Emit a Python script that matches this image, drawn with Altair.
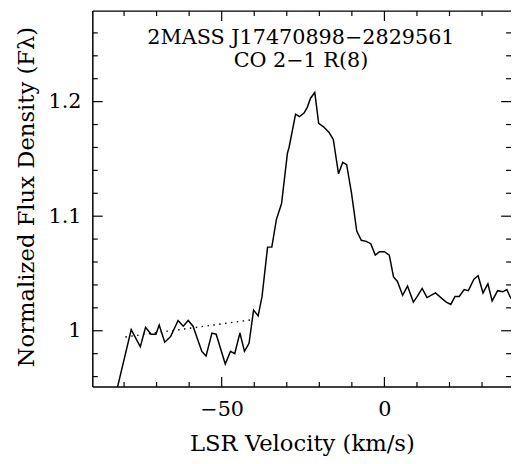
import altair as alt
import pandas as pd

velocity = [-82.0, -77.8, -75.0, -73.4, -71.7, -70.2, -69.2, -67.5, -65.7, -63.4,
            -61.8, -60.3, -58.8, -56.1, -54.8, -53.0, -51.7, -48.9, -47.3, -46.0,
            -44.4, -43.0, -41.6, -40.2, -38.8, -37.6, -35.9, -34.6, -33.2, -31.6,
            -29.8, -29.3, -27.3, -26.1, -24.7, -23.7, -22.7, -21.4, -20.2, -18.7,
            -17.0, -15.7, -14.1, -12.8, -11.6, -10.1, -8.5, -7.1, -5.6, -4.2,
            -2.8, -1.5, 0.0, 1.5, 2.8, 4.0, 5.6, 7.1, 8.9, 10.1,
            11.6, 13.1, 15.7, 17.7, 19.0, 20.4, 21.7, 23.0, 24.5, 25.8,
            27.5, 28.8, 30.3, 31.8, 33.1, 34.8, 36.4, 37.6, 38.9]
flux = [0.951, 1.001, 0.986, 1.003, 0.997, 0.997, 1.005, 0.990, 0.995, 1.009,
        1.004, 1.009, 1.004, 0.982, 0.978, 0.998, 0.997, 0.971, 0.982, 0.980,
        0.998, 0.982, 0.989, 1.018, 1.013, 1.030, 1.073, 1.073, 1.097, 1.111,
        1.155, 1.160, 1.189, 1.187, 1.190, 1.195, 1.203, 1.208, 1.181, 1.178,
        1.173, 1.167, 1.137, 1.147, 1.145, 1.120, 1.087, 1.079, 1.078, 1.076,
        1.066, 1.069, 1.069, 1.066, 1.047, 1.043, 1.031, 1.039, 1.025, 1.030,
        1.037, 1.029, 1.033, 1.028, 1.025, 1.023, 1.030, 1.030, 1.036, 1.035,
        1.045, 1.048, 1.033, 1.041, 1.026, 1.035, 1.034, 1.036, 1.028]

cont_velocity = [-79.6, -40.4]
cont_flux = [0.9946, 1.0097]

x_major = [-50, 0]
x_minor = [-80, -70, -60, -40, -30, -20, -10, 10, 20, 30]
y_major = [1.0, 1.1, 1.2]
y_minor = [0.96, 0.98, 1.02, 1.04, 1.06, 1.08, 1.12, 1.14, 1.16, 1.18, 1.22, 1.24, 1.26]

title_lines = ["2MASS J17470898\u22122829561", "CO 2\u22121 R(8)"]
x_title = "LSR Velocity (km/s)"
y_title = "Normalized Flux Density (F\u03bb)"

W, H = 424, 381
FONT = "DejaVu Serif"
MAJ, MIN = 10, 5

xs = alt.Scale(domain=[-89.6, 38.9], nice=False, zero=False)
ys = alt.Scale(domain=[0.951, 1.279], nice=False, zero=False)

x_axis = alt.Axis(
    values=x_major, format="d", ticks=False, domain=False, grid=False,
    labelFont=FONT, labelFontSize=21, labelColor="black", labelPadding=12,
    title=x_title, titleFont=FONT, titleFontSize=23, titleFontWeight="normal",
    titleColor="black", titleY=64, titleBaseline="alphabetic")
y_axis = alt.Axis(
    values=y_major, format="~g", ticks=False, domain=False, grid=False,
    labelFont=FONT, labelFontSize=21, labelColor="black", labelPadding=12,
    title=y_title, titleFont=FONT, titleFontSize=23, titleFontWeight="normal",
    titleColor="black", titleX=-60, titleY=188, titleBaseline="alphabetic")


def X(field):
    return alt.X(field, type="quantitative", scale=xs, axis=x_axis, title=x_title)


def Y(field):
    return alt.Y(field, type="quantitative", scale=ys, axis=y_axis, title=y_title)


spec = pd.DataFrame({"v": velocity, "f": flux})
line = alt.Chart(spec).mark_line(color="black", strokeWidth=1.5, clip=True).encode(
    x=X("v"), y=Y("f"), order="v:Q")

cont = alt.Chart(pd.DataFrame({"v": cont_velocity, "f": cont_flux})).mark_line(
    color="black", strokeWidth=1.4, strokeDash=[1.5, 4.5]).encode(x=X("v"), y=Y("f"))


def yticks(vals, x0, x1):
    return alt.Chart(pd.DataFrame({"f": vals})).mark_rule(color="black", strokeWidth=1.2).encode(
        y=Y("f"), x=alt.value(x0), x2=alt.value(x1))


def xticks(vals, y0, y1):
    return alt.Chart(pd.DataFrame({"v": vals})).mark_rule(color="black", strokeWidth=1.2).encode(
        x=X("v"), y=alt.value(y0), y2=alt.value(y1))


ticks = [
    yticks(y_major, 0, MAJ), yticks(y_minor, 0, MIN),
    yticks(y_major, W, W - MAJ), yticks(y_minor, W, W - MIN),
    xticks(x_major, H, H - MAJ), xticks(x_minor, H, H - MIN),
    xticks(x_major, 0, MAJ), xticks(x_minor, 0, MIN),
]

frame_df = pd.DataFrame({"k": [0]})
frame_left = alt.Chart(frame_df).mark_rule(color="black", strokeWidth=1.5).encode(
    x=alt.value(0), y=alt.value(0), y2=alt.value(H))
frame_top = alt.Chart(frame_df).mark_rule(color="black", strokeWidth=1.5).encode(
    x=alt.value(0), x2=alt.value(W), y=alt.value(0))
frame_bottom = alt.Chart(frame_df).mark_rule(color="black", strokeWidth=1.5).encode(
    x=alt.value(0), x2=alt.value(W), y=alt.value(H))


def title_text(t, ypos):
    return alt.Chart(pd.DataFrame({"t": [t]})).mark_text(
        font=FONT, fontSize=21, align="center", baseline="alphabetic", color="black").encode(
        x=alt.value(W / 2 - 1), y=alt.value(ypos), text="t:N")


chart = alt.layer(
    line, cont, *ticks, frame_left, frame_top, frame_bottom,
    title_text(title_lines[0], 33), title_text(title_lines[1], 57),
).properties(
    width=W, height=H,
    padding={"left": 86, "top": 0, "right": 0, "bottom": 74},
    autosize=alt.AutoSizeParams(type="none"),
).configure_view(stroke=None)

chart.save("out.html", embed_options={"renderer": "svg", "actions": False})
